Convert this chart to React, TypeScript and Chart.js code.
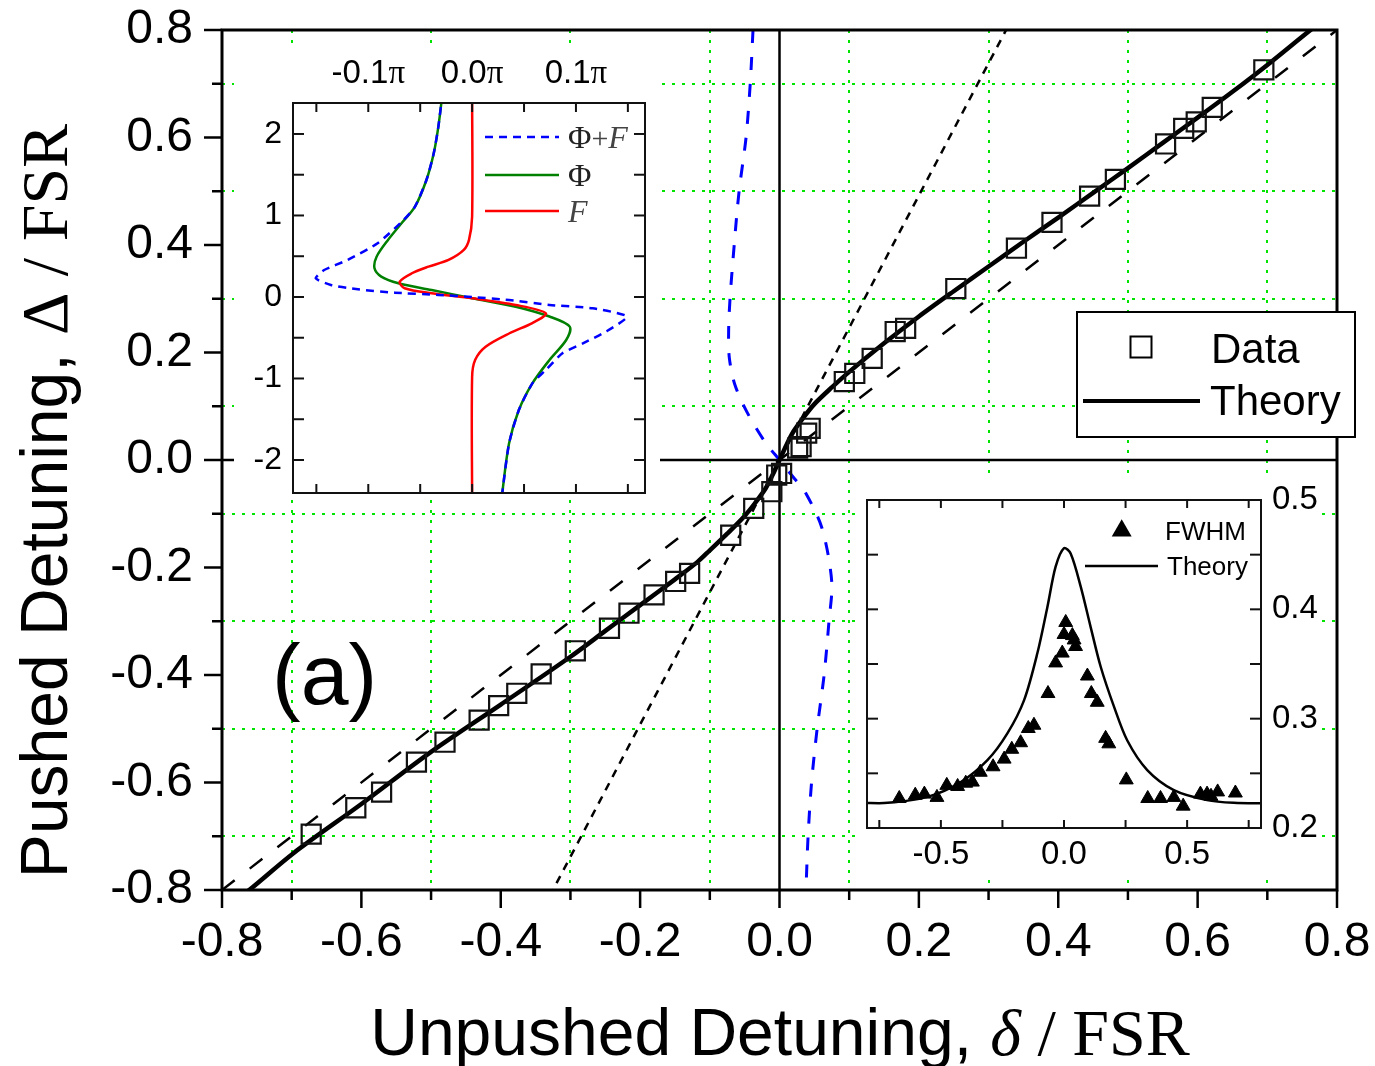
import { useEffect, useRef } from 'react';
import { Chart, registerables } from 'chart.js';

Chart.register(...registerables);

const SANS = '"Liberation Sans", Arial, Helvetica, sans-serif';
const SERIF = '"Liberation Serif", "Times New Roman", serif';
const GRID_GREEN = '#00e400';

// ---------------- Main chart data (δ/FSR -> Δ/FSR) ----------------
const dataDelta = [-0.672, -0.608, -0.571, -0.521, -0.480, -0.431, -0.403, -0.377, -0.342, -0.293, -0.244, -0.216, -0.180, -0.149, -0.129, -0.070, -0.037, -0.011, -0.004, 0.003, 0.026, 0.031, 0.039, 0.044, 0.093, 0.108, 0.133, 0.166, 0.181, 0.253, 0.340, 0.391, 0.445, 0.482, 0.554, 0.580, 0.598, 0.621, 0.695];
const dataPushed = [-0.696, -0.647, -0.618, -0.562, -0.525, -0.484, -0.457, -0.434, -0.398, -0.355, -0.313, -0.285, -0.251, -0.226, -0.211, -0.140, -0.090, -0.059, -0.028, -0.025, 0.022, 0.025, 0.050, 0.059, 0.146, 0.161, 0.189, 0.239, 0.245, 0.319, 0.394, 0.442, 0.491, 0.522, 0.588, 0.617, 0.629, 0.656, 0.726];

const theoryDelta = [-0.80, -0.761, -0.697, -0.60, -0.50, -0.40, -0.30, -0.25, -0.20, -0.15, -0.118, -0.10, -0.075, -0.05, -0.035, -0.02, -0.01, 0, 0.01, 0.02, 0.035, 0.05, 0.075, 0.10, 0.15, 0.20, 0.25, 0.30, 0.35, 0.40, 0.45, 0.50, 0.55, 0.60, 0.65, 0.70, 0.762, 0.80];
const theoryPushed = [-0.838, -0.800, -0.731, -0.640, -0.543, -0.455, -0.366, -0.318, -0.270, -0.222, -0.190, -0.168, -0.137, -0.104, -0.080, -0.053, -0.028, 0, 0.028, 0.053, 0.080, 0.104, 0.135, 0.164, 0.217, 0.267, 0.314, 0.360, 0.406, 0.451, 0.497, 0.543, 0.590, 0.637, 0.685, 0.735, 0.800, 0.838];

const blueDelta = [-0.038, -0.042, -0.048, -0.058, -0.065, -0.071, -0.073, -0.072, -0.064, -0.047, -0.021, 0, 0.021, 0.037, 0.061, 0.075, 0.071, 0.064, 0.054, 0.046, 0.041, 0.038];
const bluePushed = [0.80, 0.70, 0.60, 0.50, 0.40, 0.30, 0.24, 0.19, 0.14, 0.09, 0.034, 0, -0.034, -0.06, -0.127, -0.227, -0.30, -0.40, -0.50, -0.60, -0.70, -0.80];

const unityDelta = [-0.8, 0.8];
const unityPushed = [-0.8, 0.8];
const steepDelta = [-0.33, 0.33];
const steepPushed = [-0.812, 0.812];

// ---------------- Inset 1 (phase, in units of π) ----------------
const phaseLabelValues = [-0.1, 0, 0.1];
const phaseLabels = ['-0.1', '0.0', '0.1'];
const phiX = [-0.0285, -0.0325, -0.037, -0.044, -0.055, -0.068, -0.081, -0.092, -0.094, -0.0875, -0.071, -0.039, 0, 0.042, 0.0745, 0.094, 0.0906, 0.0745, 0.058, 0.045, 0.0356, 0.029, 0.0285];
const phiY = [2.5, 2.09, 1.76, 1.435, 1.108, 0.904, 0.70, 0.494, 0.352, 0.25, 0.168, 0.086, -0.016, -0.119, -0.24, -0.364, -0.528, -0.773, -1.06, -1.387, -1.795, -2.41, -2.5];
const fX = [0, 0, -0.003, -0.008, -0.0227, -0.042, -0.058, -0.0697, -0.065, -0.039, 0, 0.042, 0.071, 0.058, 0.036, 0.013, 0.003, 0, 0];
const fY = [2.5, 0.985, 0.70, 0.577, 0.454, 0.372, 0.291, 0.188, 0.107, 0.045, -0.016, -0.098, -0.20, -0.32, -0.445, -0.61, -0.77, -0.98, -2.5];
const phiFX = [-0.0285, -0.0325, -0.037, -0.044, -0.055, -0.066, -0.091, -0.120, -0.1425, -0.1506, -0.136, -0.110, -0.0745, -0.0325, 0, 0.0356, 0.0745, 0.116, 0.149, 0.129, 0.1067, 0.087, 0.071, 0.058, 0.045, 0.0356, 0.029, 0.0285];
const phiFY = [2.5, 2.09, 1.76, 1.435, 1.108, 0.945, 0.659, 0.454, 0.331, 0.229, 0.147, 0.094, 0.053, 0.025, 0, -0.037, -0.098, -0.139, -0.24, -0.425, -0.568, -0.69, -0.895, -1.06, -1.387, -1.795, -2.41, -2.5];

// ---------------- Inset 2 (FWHM) ----------------
const fwhmX = [-0.669, -0.604, -0.567, -0.516, -0.476, -0.432, -0.399, -0.372, -0.340, -0.288, -0.243, -0.212, -0.176, -0.145, -0.122, -0.065, -0.034, -0.007, 0, 0.007, 0.034, 0.041, 0.047, 0.095, 0.111, 0.135, 0.169, 0.182, 0.253, 0.340, 0.392, 0.446, 0.484, 0.554, 0.581, 0.597, 0.624, 0.696];
const fwhmY = [0.227, 0.230, 0.231, 0.228, 0.239, 0.238, 0.241, 0.242, 0.251, 0.256, 0.263, 0.272, 0.278, 0.291, 0.294, 0.323, 0.351, 0.360, 0.377, 0.388, 0.376, 0.372, 0.366, 0.339, 0.323, 0.315, 0.282, 0.277, 0.244, 0.227, 0.227, 0.228, 0.220, 0.231, 0.231, 0.229, 0.233, 0.232];
const fwhmTheoryX = [-0.82, -0.716, -0.554, -0.419, -0.311, -0.230, -0.162, -0.108, -0.0676, -0.034, 0, 0.027, 0.0676, 0.108, 0.149, 0.203, 0.257, 0.338, 0.446, 0.581, 0.689, 0.82];
const fwhmTheoryY = [0.223, 0.223, 0.2285, 0.242, 0.262, 0.2865, 0.317, 0.360, 0.402, 0.439, 0.456, 0.451, 0.421, 0.384, 0.3475, 0.311, 0.280, 0.253, 0.2347, 0.2255, 0.223, 0.2225];

const pts = (xs: number[], ys: number[]) => xs.map((x, i) => ({ x, y: ys[i] }));
const isMajor = (v: number) => Math.abs(Math.round(v * 10)) % 2 === 0;
const fmt1 = (v: number) => {
  const r = Math.round(v * 10) / 10;
  return (r === 0 ? 0 : r).toFixed(1);
};

type Run = { text: string; font: string; color?: string };
function drawRuns(ctx: any, runs: Run[], x: number, y: number, align: 'left' | 'center') {
  let total = 0;
  for (const r of runs) { ctx.font = r.font; total += ctx.measureText(r.text).width; }
  let cx = align === 'center' ? x - total / 2 : x;
  ctx.textAlign = 'left';
  ctx.textBaseline = 'alphabetic';
  for (const r of runs) {
    ctx.font = r.font;
    ctx.fillStyle = r.color || '#000';
    ctx.fillText(r.text, cx, y);
    cx += ctx.measureText(r.text).width;
  }
}

function line(ctx: any, x1: number, y1: number, x2: number, y2: number) {
  ctx.beginPath(); ctx.moveTo(x1, y1); ctx.lineTo(x2, y2); ctx.stroke();
}

const lineDs = (data: any, color: string, width: number, dash: number[] = [], tension = 0) => ({
  data, showLine: true, borderColor: color, borderWidth: width, borderDash: dash,
  pointRadius: 0, pointHoverRadius: 0, fill: false, tension,
});

// ---------------- Main chart ----------------
const mainDecor = {
  id: 'mainDecor',
  afterDraw(chart: any) {
    const { ctx, chartArea: a, scales } = chart;
    const xs = scales.x, ys = scales.y;
    ctx.save();
    ctx.strokeStyle = '#000';
    ctx.lineWidth = 2.5;
    xs.ticks.forEach((t: any) => {
      const p = xs.getPixelForValue(t.value);
      line(ctx, p, a.bottom, p, a.bottom + (isMajor(t.value) ? 18 : 10));
    });
    ys.ticks.forEach((t: any) => {
      const p = ys.getPixelForValue(t.value);
      line(ctx, a.left, p, a.left - (isMajor(t.value) ? 18 : 10), p);
    });
    ctx.lineWidth = 3;
    ctx.strokeRect(a.left, a.top, a.right - a.left, a.bottom - a.top);

    // panel label
    drawRuns(ctx, [{ text: '(a)', font: `86px ${SANS}` }], 272, 704, 'left');

    // legend
    ctx.fillStyle = '#fff';
    ctx.fillRect(1077, 312, 278, 125);
    ctx.lineWidth = 2;
    ctx.strokeStyle = '#000';
    ctx.strokeRect(1077, 312, 278, 125);
    ctx.strokeRect(1130.5, 336.5, 21, 21);
    ctx.lineWidth = 4;
    line(ctx, 1083, 401, 1200, 401);
    drawRuns(ctx, [{ text: 'Data', font: `42px ${SANS}` }], 1211, 363, 'left');
    drawRuns(ctx, [{ text: 'Theory', font: `42px ${SANS}` }], 1210, 415, 'left');

    // axis titles
    drawRuns(ctx, [
      { text: 'Unpushed Detuning, ', font: `66px ${SANS}` },
      { text: 'δ', font: `italic 66px ${SERIF}` },
      { text: ' / FSR', font: `66px ${SERIF}` },
    ], 780, 1055, 'center');
    ctx.save();
    ctx.translate(67, 501);
    ctx.rotate(-Math.PI / 2);
    drawRuns(ctx, [
      { text: 'Pushed Detuning, ', font: `66px ${SANS}` },
      { text: 'Δ', font: `66px ${SERIF}` },
      { text: ' / FSR', font: `66px ${SERIF}` },
    ], 0, 0, 'center');
    ctx.restore();
    ctx.restore();
  },
};

function mainConfig(): any {
  const axisCommon = (size: number, isX: boolean) => ({
    type: 'linear',
    min: -0.8,
    max: 0.8,
    afterFit: (s: any) => {
      if (isX) s.height = size; else s.width = size;
      s.paddingLeft = 0; s.paddingRight = 0; s.paddingTop = 0; s.paddingBottom = 0;
    },
    ticks: {
      stepSize: 0.1, autoSkip: false, maxRotation: 0, minRotation: 0, includeBounds: false,
      padding: isX ? 6 : 11, color: '#000', font: { family: SANS, size: 48 },
      callback: (v: any) => (isMajor(Number(v)) ? fmt1(Number(v)) : ''),
    },
    grid: {
      drawOnChartArea: true, drawTicks: true, tickLength: 18, tickColor: 'rgba(0,0,0,0)',
      color: (c: any) => (c.tick && !isMajor(c.tick.value) ? GRID_GREEN : 'rgba(0,0,0,0)'),
      lineWidth: 2,
    },
    border: { display: false, dash: [3, 7] },
  });
  return {
    type: 'scatter',
    data: {
      datasets: [
        {
          data: pts(dataDelta, dataPushed), showLine: false, pointStyle: 'rect', pointRadius: 13.5,
          pointHoverRadius: 13.5, borderColor: '#111', borderWidth: 2.2, backgroundColor: 'rgba(0,0,0,0)',
        },
        lineDs(pts(theoryDelta, theoryPushed), '#000', 4.5, [], 0.3),
        lineDs(pts(blueDelta, bluePushed), '#0000ff', 3, [13, 14], 0.3),
        lineDs(pts(steepDelta, steepPushed), '#000', 2.5, [8, 7]),
        lineDs(pts(unityDelta, unityPushed), '#000', 2.5, [16, 19]),
        lineDs([{ x: -0.8, y: 0 }, { x: 0.8, y: 0 }], '#000', 2.5),
        lineDs([{ x: 0, y: -0.8 }, { x: 0, y: 0.8 }], '#000', 2.5),
      ],
    },
    options: {
      animation: false, responsive: false, maintainAspectRatio: false,
      layout: { padding: { top: 30, right: 38, left: 0, bottom: 0 } },
      plugins: { legend: { display: false }, tooltip: { enabled: false }, title: { display: false } },
      events: [],
      scales: {
        x: { ...axisCommon(176, true), position: 'bottom' },
        y: { ...axisCommon(222, false), position: 'left' },
      },
    },
    plugins: [mainDecor],
  };
}

// ---------------- Inset helpers ----------------
function insetFrame(chart: any, xTickLen: number, yTickLen: number) {
  const { ctx, chartArea: a, scales } = chart;
  const xs = scales.x, ys = scales.y;
  ctx.strokeStyle = '#111';
  ctx.lineWidth = 2;
  xs.ticks.forEach((t: any) => {
    const p = xs.getPixelForValue(t.value);
    line(ctx, p, a.top, p, a.top + xTickLen);
    line(ctx, p, a.bottom, p, a.bottom - xTickLen);
  });
  ys.ticks.forEach((t: any) => {
    const p = ys.getPixelForValue(t.value);
    line(ctx, a.left, p, a.left + yTickLen, p);
    line(ctx, a.right, p, a.right - yTickLen, p);
  });
  ctx.strokeRect(a.left, a.top, a.right - a.left, a.bottom - a.top);
}

const whiteBg = {
  id: 'whiteBg',
  beforeDraw(chart: any) {
    const { ctx, width, height } = chart;
    ctx.save();
    ctx.fillStyle = '#fff';
    ctx.fillRect(0, 0, width, height);
    ctx.restore();
  },
};

const inset1Decor = {
  id: 'inset1Decor',
  afterDraw(chart: any) {
    const { ctx } = chart;
    const xs = chart.scales.x;
    ctx.save();
    insetFrame(chart, 9, 11);
    phaseLabelValues.forEach((v, i) => {
      drawRuns(ctx, [
        { text: phaseLabels[i], font: `33px ${SANS}` },
        { text: 'π', font: `33px ${SERIF}` },
      ], xs.getPixelForValue(v), 37, 'center');
    });
    // legend
    ctx.lineWidth = 2.5;
    ctx.strokeStyle = '#0000ff';
    ctx.setLineDash([8, 6]);
    line(ctx, 251, 91, 325, 91);
    ctx.setLineDash([]);
    ctx.strokeStyle = '#008000';
    line(ctx, 251, 129, 325, 129);
    ctx.strokeStyle = '#ff0000';
    line(ctx, 251, 165, 325, 165);
    drawRuns(ctx, [
      { text: 'Φ', font: `32px ${SERIF}`, color: '#222' },
      { text: '+', font: `30px ${SERIF}`, color: '#444' },
      { text: 'F', font: `italic 32px ${SERIF}`, color: '#444' },
    ], 334, 102, 'left');
    drawRuns(ctx, [{ text: 'Φ', font: `32px ${SERIF}`, color: '#222' }], 334, 140, 'left');
    drawRuns(ctx, [{ text: 'F', font: `italic 32px ${SERIF}`, color: '#444' }], 334, 176, 'left');
    ctx.restore();
  },
};

function inset1Config(): any {
  return {
    type: 'scatter',
    data: {
      datasets: [
        lineDs(pts(phiFX, phiFY), '#0000ff', 2.5, [8, 6], 0.2),
        lineDs(pts(fX, fY), '#ff0000', 2.5, [], 0.3),
        lineDs(pts(phiX, phiY), '#008000', 2.5, [], 0.3),
      ],
    },
    options: {
      animation: false, responsive: false, maintainAspectRatio: false,
      layout: { padding: { top: 0, left: 0, right: 15, bottom: 7 } },
      plugins: { legend: { display: false }, tooltip: { enabled: false } },
      events: [],
      scales: {
        x: {
          type: 'linear', position: 'top', min: -0.1725, max: 0.1665,
          afterFit: (s: any) => { s.height = 57; s.paddingLeft = 0; s.paddingRight = 0; s.paddingTop = 0; s.paddingBottom = 0; },
          ticks: { display: false, stepSize: 0.05, includeBounds: false, autoSkip: false },
          grid: { display: false, drawTicks: false },
          border: { display: false },
        },
        y: {
          type: 'linear', position: 'left', min: -2.405, max: 2.38,
          afterFit: (s: any) => { s.width = 59; s.paddingLeft = 0; s.paddingRight = 0; s.paddingTop = 0; s.paddingBottom = 0; },
          ticks: {
            stepSize: 0.5, includeBounds: false, autoSkip: false, padding: 11, color: '#000',
            font: { family: SANS, size: 32 },
            callback: (v: any) => (Math.abs(Number(v) - Math.round(Number(v))) < 1e-6 ? String(Math.round(Number(v))) : ''),
          },
          grid: { display: false, drawTicks: false },
          border: { display: false },
        },
      },
    },
    plugins: [whiteBg, inset1Decor],
  };
}

const inset2Decor = {
  id: 'inset2Decor',
  afterDraw(chart: any) {
    const { ctx } = chart;
    ctx.save();
    insetFrame(chart, 8, 11);
    // legend
    const cx = 263.7, cy = 50.8, r = 11.5;
    ctx.fillStyle = '#000';
    ctx.beginPath();
    ctx.moveTo(cx, cy - r);
    ctx.lineTo(cx - r * 0.866, cy + r * 0.5);
    ctx.lineTo(cx + r * 0.866, cy + r * 0.5);
    ctx.closePath();
    ctx.fill();
    drawRuns(ctx, [{ text: 'FWHM', font: `26px ${SANS}` }], 307, 60, 'left');
    ctx.strokeStyle = '#000';
    ctx.lineWidth = 2.5;
    line(ctx, 227, 86, 300, 86);
    drawRuns(ctx, [{ text: 'Theory', font: `26px ${SANS}` }], 309, 95, 'left');
    ctx.restore();
  },
};

function inset2Config(): any {
  return {
    type: 'scatter',
    data: {
      datasets: [
        {
          data: pts(fwhmX, fwhmY), showLine: false, pointStyle: 'triangle', pointRadius: 8,
          pointHoverRadius: 8, backgroundColor: '#000', borderColor: '#000', borderWidth: 1,
        },
        lineDs(pts(fwhmTheoryX, fwhmTheoryY), '#000', 2.5, [], 0.3),
      ],
    },
    options: {
      animation: false, responsive: false, maintainAspectRatio: false,
      layout: { padding: { top: 20, left: 8, right: 0, bottom: 0 } },
      plugins: { legend: { display: false }, tooltip: { enabled: false } },
      events: [],
      scales: {
        x: {
          type: 'linear', position: 'bottom', min: -0.8, max: 0.8,
          afterFit: (s: any) => { s.height = 50; s.paddingLeft = 0; s.paddingRight = 0; s.paddingTop = 0; s.paddingBottom = 0; },
          ticks: {
            stepSize: 0.25, includeBounds: false, autoSkip: false, maxRotation: 0, padding: 7, color: '#000',
            font: { family: SANS, size: 33 },
            callback: (v: any) => (Math.abs(Number(v) * 2 - Math.round(Number(v) * 2)) < 1e-6 ? fmt1(Number(v)) : ''),
          },
          grid: { display: false, drawTicks: false },
          border: { display: false },
        },
        y: {
          type: 'linear', position: 'right', min: 0.2, max: 0.5,
          afterFit: (s: any) => { s.width = 61; s.paddingLeft = 0; s.paddingRight = 0; s.paddingTop = 0; s.paddingBottom = 0; },
          ticks: {
            stepSize: 0.05, includeBounds: false, autoSkip: false, padding: 11, color: '#000',
            font: { family: SANS, size: 33 },
            callback: (v: any) => (Math.abs(Number(v) * 10 - Math.round(Number(v) * 10)) < 1e-6 ? fmt1(Number(v)) : ''),
          },
          grid: { display: false, drawTicks: false },
          border: { display: false },
        },
      },
    },
    plugins: [whiteBg, inset2Decor],
  };
}

export default function App() {
  const mainRef = useRef<HTMLCanvasElement>(null);
  const in1Ref = useRef<HTMLCanvasElement>(null);
  const in2Ref = useRef<HTMLCanvasElement>(null);

  useEffect(() => {
    const charts: Chart[] = [];
    if (mainRef.current) charts.push(new Chart(mainRef.current, mainConfig()));
    if (in1Ref.current) charts.push(new Chart(in1Ref.current, inset1Config()));
    if (in2Ref.current) charts.push(new Chart(in2Ref.current, inset2Config()));
    return () => charts.forEach((c) => c.destroy());
  }, []);

  return (
    <div style={{ position: 'absolute', left: 0, top: 0, width: 1375, height: 1066, overflow: 'hidden', background: '#fff' }}>
      <canvas ref={mainRef} width={1375} height={1066} style={{ position: 'absolute', left: 0, top: 0, width: 1375, height: 1066 }} />
      <canvas ref={in1Ref} width={426} height={454} style={{ position: 'absolute', left: 234, top: 46, width: 426, height: 454 }} />
      <canvas ref={in2Ref} width={464} height={398} style={{ position: 'absolute', left: 858, top: 480, width: 464, height: 398 }} />
    </div>
  );
}
